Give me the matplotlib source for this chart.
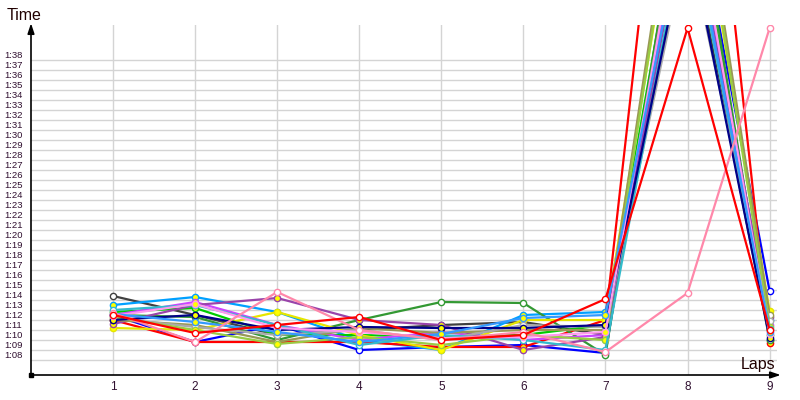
import matplotlib
matplotlib.use("Agg")
import matplotlib.pyplot as plt
import matplotlib.transforms as mtransforms

# lap times in seconds, laps 1..9 (lap 8 = pit stop for most cars)
laps = [1, 2, 3, 4, 5, 6, 7, 8, 9]

dark_gray = [74.4, 72.5, 70.5, 71.0, 71.5, 71.8, 70.5, 112.0, 70.0]
blue      = [72.5, 69.8, 71.5, 69.0, 69.3, 69.5, 68.7, 118.0, 74.9]
sky       = [73.5, 74.3, 72.8, 70.0, 69.0, 72.5, 72.8, 115.0, 72.0]
red_a     = [72.5, 70.7, 71.5, 72.3, 70.0, 70.5, 74.1, 101.2, 71.0]
red_b     = [72.0, 69.8, 69.8, 69.8, 69.3, 69.3, 72.0, 145.0, 69.7]
green     = [72.8, 73.2, 70.5, 70.5, 70.3, 70.5, 71.5, 118.0, 70.5]
dk_green  = [72.5, 72.3, 70.0, 72.0, 73.8, 73.7, 68.5, 120.0, 70.0]
yellow    = [71.2, 71.0, 72.8, 70.5, 69.0, 72.0, 72.0, 122.0, 72.9]
magenta   = [72.5, 73.8, 71.5, 70.0, 70.8, 70.0, 70.5, 116.0, 71.5]
purple    = [71.6, 73.5, 74.2, 72.0, 71.5, 69.0, 70.3, 114.0, 72.3]
pink      = [72.7, 69.8, 74.8, 71.0, 70.0, 70.8, 68.8, 74.7, 101.2]
olive     = [72.0, 71.5, 69.8, 71.2, 70.7, 71.0, 71.0, 125.0, 72.5]
gray      = [72.2, 71.3, 70.5, 71.0, 70.0, 71.5, 71.3, 110.0, 71.9]
lt_green  = [72.3, 71.0, 69.6, 70.3, 69.5, 70.5, 70.0, 124.0, 71.3]
teal      = [73.0, 73.5, 71.5, 69.5, 70.5, 70.0, 69.0, 113.0, 71.1]
navy      = [72.0, 72.5, 71.0, 71.3, 71.2, 71.2, 71.5, 111.0, 70.2]
lavender  = [72.4, 73.6, 71.2, 70.8, 70.2, 70.3, 70.8, 117.0, 70.6]
lt_blue   = [72.6, 71.8, 70.8, 69.8, 70.6, 72.2, 72.5, 114.0, 70.8]

series = [
    (dark_gray, "#404040", "white"),
    (blue, "#0000ff", "white"),
    (sky, "#00a0ff", "#ffff00"),
    (red_b, "#ff0000", "#ffff00"),
    (green, "#00cc00", "#ffff00"),
    (dk_green, "#339933", "white"),
    (yellow, "#e6e600", "#ffff00"),
    (magenta, "#cc44ff", "#ffff00"),
    (purple, "#9944aa", "#ffff00"),
    (olive, "#999955", "white"),
    (gray, "#aaaaaa", "white"),
    (lt_green, "#99cc44", "#ffff00"),
    (teal, "#33bbcc", "white"),
    (navy, "#000088", "#ffff00"),
    (lavender, "#ff99ee", "#ffff00"),
    (lt_blue, "#3399ff", "#ffff00"),
    (pink, "#ff88aa", "white"),
    (red_a, "#ff0000", "white"),
]

ytick_vals = list(range(68, 99))
ytick_labels = ["1:%02d" % (v - 60) for v in ytick_vals]

fig = plt.figure(figsize=(8, 4), dpi=100)
ax = fig.add_axes([31 / 800, 25 / 400, 746 / 800, 350 / 400])
ax.set_xlim(0, 9.09)
ax.set_ylim(66.5, 101.5)

for v in ytick_vals:
    ax.axhline(v, color="#d4d4d4", lw=1, zorder=0)
for x in laps:
    ax.axvline(x, color="#d4d4d4", lw=1, zorder=0)

for vals, col, face in series:
    ax.plot(laps, vals, color=col, lw=1.6, marker="o", ms=4.5,
            mfc=face, mec=col, mew=1.0, solid_joinstyle="round", zorder=2)

for s in ax.spines.values():
    s.set_visible(False)
ax.set_xticks([])
ax.set_yticks([])

# y labels sit a little above their grid line
off = mtransforms.offset_copy(ax.transData, fig=fig, x=0, y=4, units="dots")
lab_tr = mtransforms.blended_transform_factory(fig.transFigure, off)
for v, t in zip(ytick_vals, ytick_labels):
    ax.text(4 / 800, v, t, transform=lab_tr, fontsize=6.8, color="#301030",
            family="Liberation Sans", ha="left", va="center", clip_on=False)

xlab_tr = mtransforms.blended_transform_factory(ax.transData, fig.transFigure)
for x in laps:
    ax.text(x, 1 - 387 / 400, str(x), transform=xlab_tr,
            fontsize=8.5, color="#301030", family="Liberation Sans", ha="center", va="center")

# axis arrows
ax.annotate("", xy=(0, 1.005), xytext=(0, 0), xycoords="axes fraction",
            arrowprops=dict(arrowstyle="-|>,head_length=0.6,head_width=0.2", color="black", lw=1.2,
                            shrinkA=0, shrinkB=0), annotation_clip=False)
ax.annotate("", xy=(1.005, 0), xytext=(0, 0), xycoords="axes fraction",
            arrowprops=dict(arrowstyle="-|>,head_length=0.6,head_width=0.2", color="black", lw=1.2,
                            shrinkA=0, shrinkB=0), annotation_clip=False)
ax.plot([0], [66.5], marker="s", ms=3, color="black", clip_on=False, zorder=5)

fig.text(7 / 800, 1 - 15 / 400, "Time", fontsize=11.5, family="Liberation Sans",
         color="#200000", ha="left", va="center")
fig.text(775 / 800, 1 - 364 / 400, "Laps", fontsize=11.5, family="Liberation Sans",
         color="#200000", ha="right", va="center")

fig.savefig("out.png", dpi=100)
